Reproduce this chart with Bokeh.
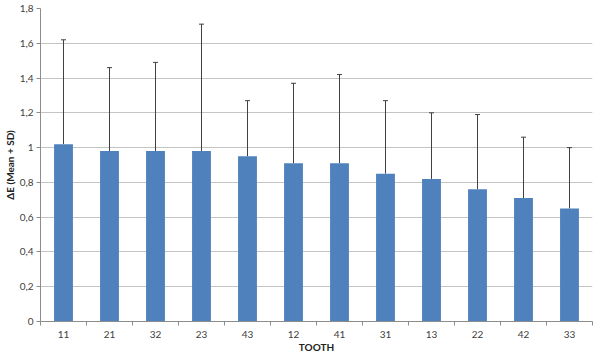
from bokeh.plotting import figure
from bokeh.models import ColumnDataSource, FixedTicker, Whisker, TeeHead, CustomJSTickFormatter
from bokeh.embed import file_html
from bokeh.resources import INLINE

teeth = ["11", "21", "32", "23", "43", "12", "41", "31", "13", "22", "42", "33"]
means = [1.02, 0.98, 0.98, 0.98, 0.95, 0.91, 0.91, 0.85, 0.82, 0.76, 0.71, 0.65]
sds = [0.60, 0.48, 0.51, 0.73, 0.32, 0.46, 0.51, 0.42, 0.38, 0.43, 0.35, 0.35]
y_ticks = [0, 0.2, 0.4, 0.6, 0.8, 1.0, 1.2, 1.4, 1.6, 1.8]

xs = [i + 0.5 for i in range(len(teeth))]
upper = [m + s for m, s in zip(means, sds)]
src = ColumnDataSource(dict(x=xs, mean=means, upper=upper))

FONT = "Lato"
p = figure(width=600, height=355, x_range=(0, len(teeth)), y_range=(0, 1.8),
           output_backend="svg", toolbar_location=None,
           min_border_left=0, min_border_right=8, min_border_top=8, min_border_bottom=0)
p.outline_line_color = None
p.background_fill_color = "white"

p.vbar(x="x", top="mean", width=0.41, source=src, fill_color="#4F81BD", line_color=None)
w = Whisker(base="x", lower="mean", upper="upper", source=src,
            line_color="#404040", line_width=1,
            upper_head=TeeHead(size=5, line_color="#404040", line_width=1), lower_head=None)
p.add_layout(w)

# y axis
p.yaxis.ticker = FixedTicker(ticks=y_ticks)
p.yaxis.formatter = CustomJSTickFormatter(code="var s=(Math.round(tick*10)/10).toString(); return s.replace('.', ',');")
p.yaxis.axis_label = "ΔE (Mean + SD)"
p.yaxis.axis_label_text_font = FONT
p.yaxis.axis_label_text_font_style = "bold"
p.yaxis.axis_label_text_font_size = "10px"
p.yaxis.axis_label_text_color = "#222222"
p.yaxis.axis_label_standoff = 1
p.yaxis.major_label_text_font = FONT
p.yaxis.major_label_text_font_size = "10px"
p.yaxis.major_label_text_color = "#404040"
p.yaxis.axis_line_color = "#8c8c8c"
p.yaxis.major_tick_line_color = "#8c8c8c"
p.yaxis.major_tick_out = 4
p.yaxis.major_tick_in = 0
p.yaxis.minor_tick_line_color = None
p.yaxis.major_label_standoff = 3

# x axis
p.xaxis.ticker = FixedTicker(ticks=xs, minor_ticks=list(range(len(teeth) + 1)))
p.xaxis.major_label_overrides = {x: t for x, t in zip(xs, teeth)}
p.xaxis.axis_label = "TOOTH"
p.xaxis.axis_label_text_font = FONT
p.xaxis.axis_label_text_font_style = "bold"
p.xaxis.axis_label_text_font_size = "10px"
p.xaxis.axis_label_text_color = "#222222"
p.xaxis.axis_label_standoff = 0
p.xaxis.major_label_text_font = FONT
p.xaxis.major_label_text_font_size = "10px"
p.xaxis.major_label_text_color = "#404040"
p.xaxis.axis_line_color = "#8c8c8c"
p.xaxis.major_tick_line_color = None
p.xaxis.minor_tick_line_color = "#8c8c8c"
p.xaxis.minor_tick_out = 4
p.xaxis.minor_tick_in = 0
p.xaxis.major_label_standoff = 3

p.xgrid.grid_line_color = None
p.ygrid.ticker = FixedTicker(ticks=y_ticks)
p.ygrid.grid_line_color = "#c4c4c4"
p.ygrid.grid_line_width = 1

open("out.html", "w").write(file_html(p, INLINE))
